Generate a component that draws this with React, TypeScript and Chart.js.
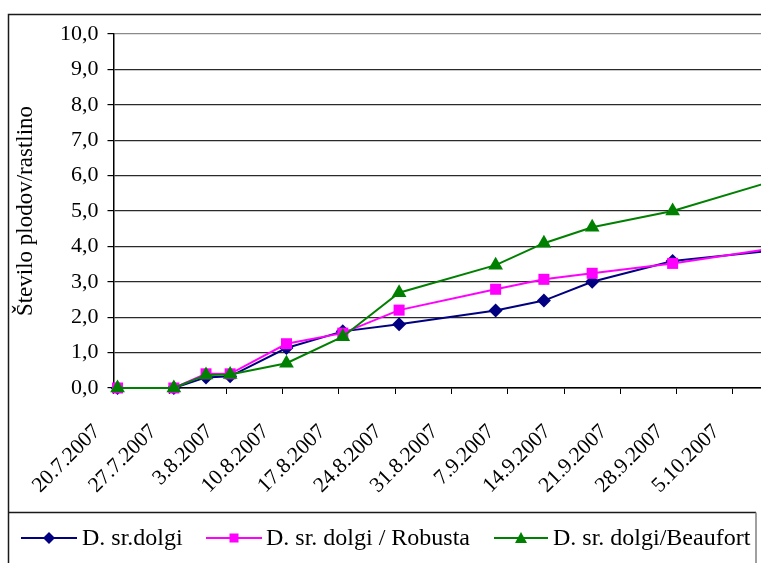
import React, { useEffect, useRef } from "react";
import { Chart, registerables } from "chart.js";

Chart.register(...registerables);

// Sampling days, counted from 20.7.2007
const sampleDays = [0, 7, 11, 14, 21, 28, 35, 47, 53, 59, 69, 83];

// Number of fruits per plant for each grafting variant
const dolgi = [0, 0, 0.3, 0.33, 1.13, 1.6, 1.8, 2.19, 2.47, 3.0, 3.59, 3.92];
const dolgiRobusta = [0, 0, 0.4, 0.4, 1.25, 1.55, 2.2, 2.79, 3.07, 3.24, 3.52, 4.0];
const dolgiBeaufort = [0, 0, 0.37, 0.38, 0.7, 1.45, 2.69, 3.47, 4.09, 4.54, 5.0, 5.95];

const seriesNames = ["D. sr.dolgi", "D. sr. dolgi / Robusta", "D. sr. dolgi/Beaufort"];
const seriesColors = ["#000080", "#FF00FF", "#008000"];
const seriesMarkers = ["rectRot", "rect", "triangle"];
const markerSizes = [7, 7.8, 8.5];

// Weekly date labels on the x axis
const xTickLabels = [
  "20.7.2007", "27.7.2007", "3.8.2007", "10.8.2007", "17.8.2007", "24.8.2007",
  "31.8.2007", "7.9.2007", "14.9.2007", "21.9.2007", "28.9.2007", "5.10.2007",
];

const yAxisTitle = "Število plodov/rastlino";

const FONT = "'Liberation Serif', 'Times New Roman', serif";

// Horizontal density of the date axis (pixels per day) and its left edge
const PX_PER_DAY = 8.045;
const AXIS_LEFT = 113.5;
const VIEW_W = 761;
const VIEW_H = 563;
const CANVAS_W = 800;

// Tick positions sit on the boundary between day slots, half a day before each date
const tickValue = (i: number) => i * 7 - 0.5;

// Rotated date labels under the x axis
const dateLabelsPlugin = {
  id: "dateLabels",
  afterDraw(chart: any) {
    const ctx = chart.ctx as CanvasRenderingContext2D;
    const xs = chart.scales.x;
    const axisY = chart.chartArea.bottom;
    ctx.save();
    ctx.font = `21.5px ${FONT}`;
    ctx.fillStyle = "#000";
    ctx.textAlign = "right";
    ctx.textBaseline = "alphabetic";
    xTickLabels.forEach((label, i) => {
      const px = xs.getPixelForValue(tickValue(i));
      ctx.save();
      ctx.translate(px - 12.5, axisY + 44.5);
      ctx.rotate(-Math.PI / 4);
      ctx.fillText(label, 0, 0);
      ctx.restore();
    });
    ctx.restore();
  },
};

// Frame and legend box drawn around the plot
const framePlugin = {
  id: "frameAndLegend",
  afterDraw(chart: any) {
    const ctx = chart.ctx as CanvasRenderingContext2D;
    const W = chart.width;
    const H = chart.height;
    ctx.save();
    // outer frame (left and top edges)
    ctx.strokeStyle = "#1a1a1a";
    ctx.lineWidth = 1.5;
    ctx.beginPath();
    ctx.moveTo(8.5, H);
    ctx.lineTo(8.5, 14.5);
    ctx.lineTo(W, 14.5);
    ctx.stroke();
    // legend box
    const ly = 512.5;
    ctx.beginPath();
    ctx.moveTo(8.5, ly);
    ctx.lineTo(756, ly);
    ctx.stroke();
    ctx.strokeStyle = "#808080";
    ctx.beginPath();
    ctx.moveTo(756, ly);
    ctx.lineTo(756, H);
    ctx.stroke();

    const cy = 538;
    const entries = [
      { x0: 21, x1: 77, tx: 82 },
      { x0: 206, x1: 262, tx: 266 },
      { x0: 494, x1: 548, tx: 553 },
    ];
    ctx.font = `24px ${FONT}`;
    ctx.textBaseline = "middle";
    ctx.textAlign = "left";
    entries.forEach((e, i) => {
      ctx.strokeStyle = seriesColors[i];
      ctx.lineWidth = 2;
      ctx.beginPath();
      ctx.moveTo(e.x0, cy);
      ctx.lineTo(e.x1, cy);
      ctx.stroke();
      ctx.fillStyle = seriesColors[i];
      ctx.beginPath();
      const mx = (e.x0 + e.x1) / 2;
      if (i === 0) {
        const r = 6;
        ctx.moveTo(mx, cy - r);
        ctx.lineTo(mx + r, cy);
        ctx.lineTo(mx, cy + r);
        ctx.lineTo(mx - r, cy);
      } else if (i === 1) {
        ctx.rect(mx - 4.5, cy - 4.5, 9, 9);
      } else {
        ctx.moveTo(mx, cy - 6);
        ctx.lineTo(mx + 6, cy + 5);
        ctx.lineTo(mx - 6, cy + 5);
      }
      ctx.closePath();
      ctx.fill();
      ctx.fillStyle = "#000";
      ctx.fillText(seriesNames[i], e.tx, cy + 1);
    });
    ctx.restore();
  },
};

export default function App() {
  const canvasRef = useRef<HTMLCanvasElement | null>(null);

  useEffect(() => {
    if (!canvasRef.current) return;
    const series = [dolgi, dolgiRobusta, dolgiBeaufort];
    const chart = new Chart(canvasRef.current, {
      type: "line",
      data: {
        datasets: series.map((vals, i) => ({
          label: seriesNames[i],
          data: sampleDays.map((d, j) => ({ x: d, y: vals[j] })),
          borderColor: seriesColors[i],
          backgroundColor: seriesColors[i],
          borderWidth: 2,
          pointStyle: seriesMarkers[i] as any,
          pointRadius: markerSizes[i],
          pointHoverRadius: markerSizes[i],
          pointBorderWidth: 0,
          pointBackgroundColor: seriesColors[i],
          tension: 0,
          clip: false as any,
          order: 2 - i,
        })),
      },
      options: {
        animation: false,
        responsive: false,
        maintainAspectRatio: false,
        layout: { padding: { top: 34, bottom: 50.5, left: 0, right: 0 } },
        plugins: {
          legend: { display: false },
          tooltip: { enabled: false },
        },
        scales: {
          x: {
            type: "linear",
            min: -0.5,
            max: 80,
            afterBuildTicks: (scale: any) => {
              scale.ticks = xTickLabels
                .map((_, i) => ({ value: tickValue(i) }))
                .filter((t) => t.value <= scale.max);
            },
            afterFit: (scale: any) => {
              scale.height = 124.5;
              scale.paddingLeft = 0;
              scale.paddingRight = 0;
            },
            ticks: { display: false, autoSkip: false },
            grid: {
              drawOnChartArea: false,
              drawTicks: true,
              tickLength: 6,
              color: "#000",
              lineWidth: 1,
            },
            border: { color: "#000", width: 1.5 },
          },
          y: {
            min: 0,
            max: 10,
            afterFit: (scale: any) => {
              scale.width = AXIS_LEFT;
            },
            ticks: {
              stepSize: 1,
              padding: 9,
              color: "#000",
              font: { family: FONT, size: 22 },
              callback: (v: any) => Number(v).toFixed(1).replace(".", ","),
            },
            grid: {
              color: (c: any) => (c.tick && c.tick.value === 10 ? "#8a8a8a" : "#2a2a2a"),
              lineWidth: 1.2,
              tickLength: 6,
              tickColor: "#000",
            },
            border: { color: "#000", width: 1.5 },
            title: {
              display: true,
              text: yAxisTitle,
              color: "#000",
              font: { family: FONT, size: 23 },
              padding: { top: 12, bottom: 0 },
            },
          },
        },
      },
      plugins: [dateLabelsPlugin, framePlugin],
    });

    // keep the day density fixed, whatever width the plot area ends up with
    const area = chart.chartArea;
    const xOpts: any = (chart.options.scales as any).x;
    xOpts.max = -0.5 + (area.right - area.left) / PX_PER_DAY;
    chart.update();

    return () => chart.destroy();
  }, []);

  return (
    <div
      style={{
        position: "fixed",
        left: 0,
        top: 0,
        width: VIEW_W,
        height: VIEW_H,
        overflow: "hidden",
        background: "#fff",
      }}
    >
      <canvas
        ref={canvasRef}
        width={CANVAS_W}
        height={VIEW_H}
        style={{ display: "block", width: CANVAS_W, height: VIEW_H }}
      />
    </div>
  );
}
